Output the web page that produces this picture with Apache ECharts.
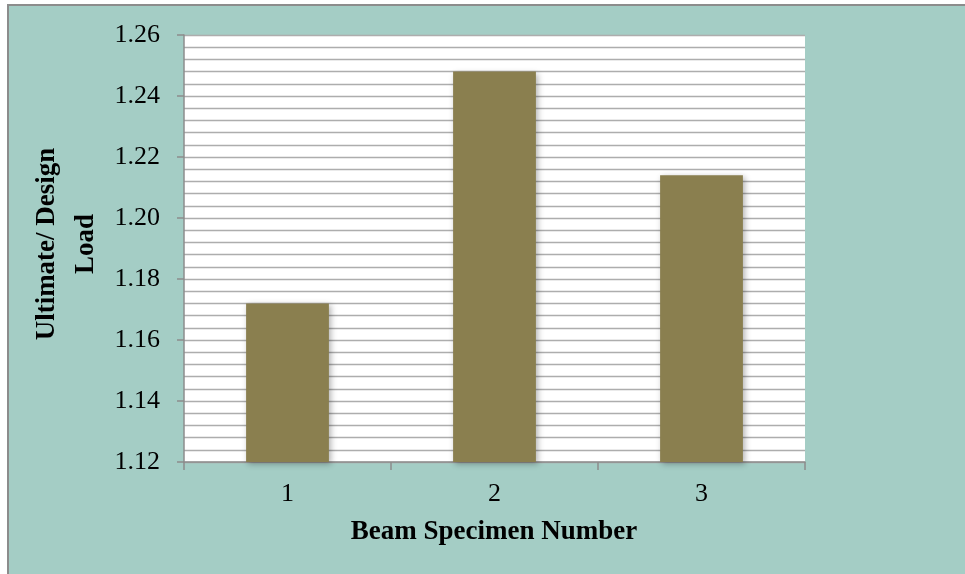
<!DOCTYPE html>
<html>
<head>
<meta charset="utf-8">
<script src="https://cdn.jsdelivr.net/npm/echarts@6/dist/echarts.min.js"></script>
<style>
html,body{margin:0;padding:0;background:#fff;}
#c{width:965px;height:574px;}
</style>
</head>
<body>
<div id="c"></div>
<script>
const categories = ['1', '2', '3'];
const values = [1.172, 1.248, 1.214];
const yMin = 1.12;
const yMax = 1.26;
const yInterval = 0.02;
const xTitle = 'Beam Specimen Number';
const yTitleLines = ['Ultimate/ Design', 'Load'];

const FONT = '"Liberation Serif", "Times New Roman", serif';
const chart = echarts.init(document.getElementById('c'), null, {renderer: 'canvas'});
chart.setOption({
  backgroundColor: '#ffffff',
  animation: false,
  graphic: [
    {type: 'rect', z: -10, shape: {x: 8, y: 5, width: 1000, height: 600},
     style: {fill: '#a4cdc5', stroke: '#8c8c8c', lineWidth: 2}},
    {type: 'text', x: 67, y: 244, rotation: Math.PI / 2, z: 10,
     style: {text: yTitleLines.join('\n'), font: 'bold 27px ' + FONT, fill: '#000',
       align: 'center', verticalAlign: 'middle', lineHeight: 39}},
    {type: 'text', x: 494, y: 532, z: 10,
     style: {text: xTitle, font: 'bold 27px ' + FONT, fill: '#000',
       align: 'center', verticalAlign: 'middle'}}
  ],
  grid: {left: 184, right: 160, top: 35, bottom: 112, show: true,
    backgroundColor: '#ffffff', borderWidth: 0},
  xAxis: {
    type: 'category', data: categories, boundaryGap: true,
    axisLine: {show: true, lineStyle: {color: '#8c8c8c', width: 1.5}},
    axisTick: {show: true, length: 8, alignWithLabel: false, lineStyle: {color: '#8c8c8c', width: 1.5}},
    axisLabel: {color: '#000', fontFamily: FONT, fontSize: 26, margin: 19},
    splitLine: {show: false}
  },
  yAxis: {
    type: 'value', min: yMin, max: yMax, interval: yInterval,
    axisLine: {show: true, lineStyle: {color: '#8c8c8c', width: 1.5}},
    axisTick: {show: true, length: 7, lineStyle: {color: '#8c8c8c', width: 1.5}},
    axisLabel: {color: '#000', fontFamily: FONT, fontSize: 26, margin: 24,
      formatter: v => v.toFixed(2)},
    splitLine: {show: true, lineStyle: {color: '#adadad', width: 1.3}},
    minorTick: {show: false, splitNumber: 5},
    minorSplitLine: {show: true, lineStyle: {color: '#adadad', width: 1.3}}
  },
  series: [{
    type: 'bar', data: values, barWidth: '40%',
    itemStyle: {color: '#8a7f4f', shadowBlur: 6, shadowColor: 'rgba(0,0,0,0.3)',
      shadowOffsetX: 2, shadowOffsetY: 2}
  }]
});
</script>
</body>
</html>
